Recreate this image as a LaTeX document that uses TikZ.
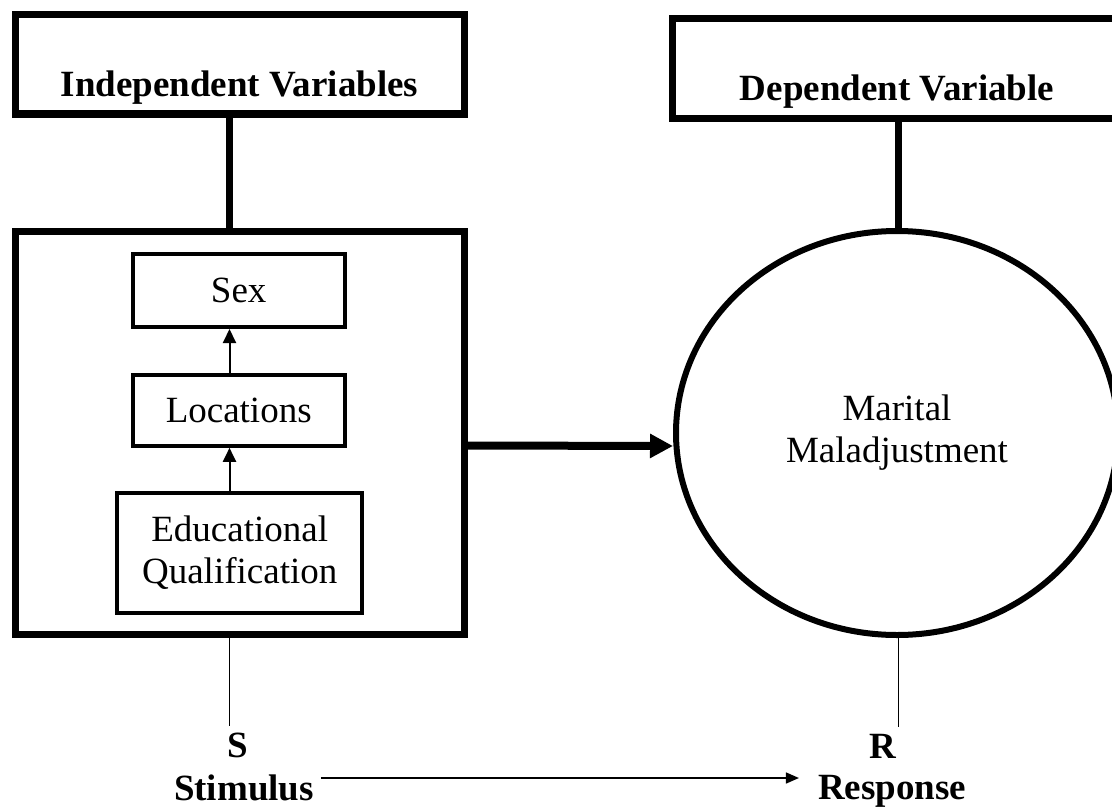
\documentclass[tikz,border=0pt]{standalone}
\usepackage{fontspec}
\setmainfont{Liberation Serif}
\usetikzlibrary{arrows.meta,positioning,shapes.geometric}
\begin{document}
\begin{tikzpicture}[x=0.5pt,y=-0.5pt,
head/.style={draw,line width=3.5pt,minimum width=224.5pt,minimum height=49.5pt,font=\fontsize{18.5}{21}\selectfont\bfseries,text height=34pt,text depth=1.5pt},
var/.style={draw,line width=2pt,align=center,minimum width=106pt,font=\fontsize{18.5}{21}\selectfont},
lab/.style={font=\fontsize{18.5}{21}\selectfont\bfseries},
heavy/.style={line width=3.5pt},
arr/.style={-{Triangle[length=7pt,width=6.5pt]},line width=1pt},
sarr/.style={-{Triangle[length=6.5pt,width=5.5pt]},line width=0.8pt},
bigarr/.style={-{Triangle[length=11.5pt,width=11.5pt]},line width=4pt}]
\useasboundingbox(0,0)rectangle(1112,808);
\coordinate(lax)at(229.5,0);\coordinate(rax)at(898.5,0);\coordinate(ay)at(0,778);
\node[head](indep)at(239.5,64.5){Independent Variables};
\node[head](dep)at(897,68.5){Dependent Variable};
\node[draw,line width=3.5pt,minimum width=224.5pt,minimum height=201.5pt](ivbox)at(240,432.5){};
\node[ellipse,draw,line width=3pt,minimum width=221pt,minimum height=202pt,align=center,font=\fontsize{18.5}{21}\selectfont](mm)at(897,433){Marital\\Maladjustment};
\node[var,minimum height=36.5pt](sex)at(238.7,290.5){Sex};
\node[var,minimum height=35.5pt,below=21.9pt of sex](loc){Locations};
\node[var,minimum width=122.5pt,minimum height=60pt,below=21.6pt of loc,xshift=0.5pt](edu){Educational\\Qualification};
\node[lab](s)at(238,745.5){S};
\node[lab](stim)at(244,787.5){Stimulus};
\node[lab](r)at(883,746){R};
\node[lab](resp)at(892,791.5){Response};
\draw[heavy](indep.south -| lax)--(ivbox.north -| lax);\draw[heavy](dep.south -| rax)--(mm.north -| rax);
\draw[arr](edu.north -| lax)--(loc.south -| lax);\draw[arr](loc.north -| lax)--(sex.south -| lax);
\draw[bigarr]([yshift=-6.5pt]ivbox.east)--([yshift=-6.5pt]mm.west);
\draw[line width=0.7pt](ivbox.south -| lax)--(s.north -| lax);\draw[line width=0.7pt](mm.south -| rax)--(r.north -| rax);
\draw[sarr,shorten >=6pt](stim.east |- ay)--(resp.west |- ay);
\end{tikzpicture}
\end{document}
